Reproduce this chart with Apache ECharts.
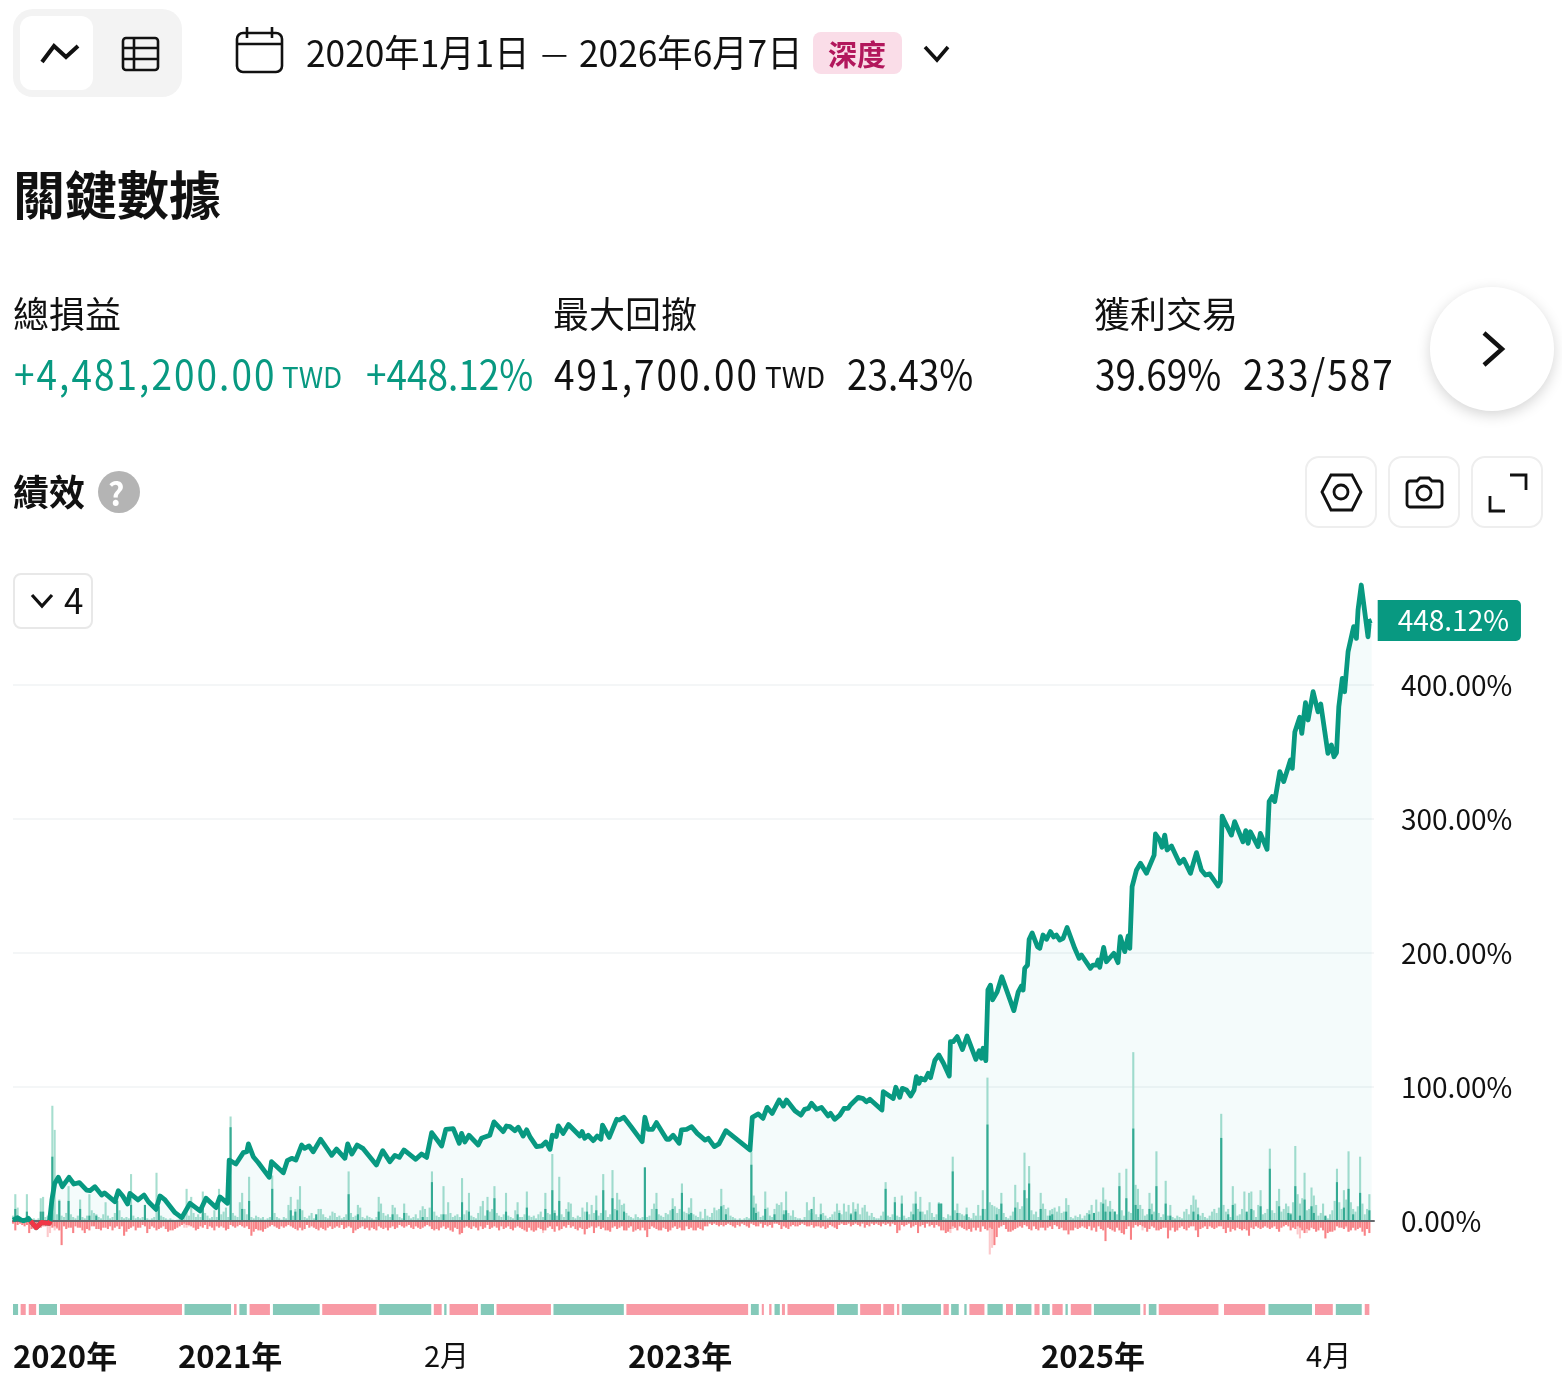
<!DOCTYPE html>
<html lang="zh-Hant">
<head>
<meta charset="utf-8">
<title>關鍵數據</title>
<script src="https://cdn.jsdelivr.net/npm/echarts@6/dist/echarts.min.js"></script>
<style>
  html, body { margin: 0; padding: 0; background: #fff; }
  body { width: 1562px; height: 1378px; position: relative; overflow: hidden;
         font-family: "Noto Sans CJK TC", "Noto Sans", sans-serif; color: #111; }
  #chart { position: absolute; left: 0; top: 0; width: 1562px; height: 1378px; }
  .t { position: absolute; white-space: nowrap; line-height: 1; transform-origin: left center; z-index: 2; }
  .box { position: absolute; box-sizing: border-box; z-index: 2; }
  .btn { background: #fff; border: 2px solid #eeeeee; border-radius: 14px; width: 72px; height: 72px; top: 456px; }
  svg { position: absolute; z-index: 3; overflow: visible; fill: none; stroke: #111; }
  .up { color: #089981; }
  .num { font-size: 41px; top: 352px; transform: scaleX(.9); }
  .spaced { letter-spacing: 2.3px; }
  .cur { font-size: 29px; top: 361px; transform: scaleX(.96); }
  .head { font-size: 36px; top: 294px; }
</style>
</head>
<body>
<div id="chart"></div>

<!-- view toggle -->
<div class="box" style="left:13px;top:9px;width:169px;height:88px;background:#f3f3f3;border-radius:20px"></div>
<div class="box" style="left:20px;top:16px;width:73px;height:74px;background:#fff;border-radius:12px"></div>
<svg style="left:0;top:0" width="10" height="10" stroke-width="4"><polyline points="42,62 54,46 66,57 78,46"/></svg>
<svg style="left:0;top:0" width="10" height="10" stroke-width="2.6"><rect x="123" y="38" width="35" height="32" rx="3"/><path d="M123 48H158M123 59H158M134 38V70"/></svg>

<!-- date range -->
<svg style="left:0;top:0" width="10" height="10" stroke-width="2.6"><rect x="237" y="33" width="45" height="39" rx="6"/><path d="M237 44H282M247 27V38M272 27V38"/></svg>
<div class="t" style="left:306px;top:33px;font-size:37px;transform:scaleX(.954)">2020年1月1日</div>
<div class="t" style="left:541px;top:33px;font-size:30px;line-height:37px;">—</div>
<div class="t" style="left:579px;top:33px;font-size:37px;transform:scaleX(.954)">2026年6月7日</div>
<div class="box" style="left:813px;top:32px;width:89px;height:42px;background:#fadde8;border-radius:8px"></div>
<div class="t" style="left:828px;top:39px;font-size:29px;font-weight:700;color:#b2175c">深度</div>
<svg style="left:0;top:0" width="10" height="10" stroke-width="3.6"><polyline points="925,47 937,60 948,47"/></svg>

<div class="t" style="left:13px;top:167px;font-size:52px;font-weight:700;">關鍵數據</div>

<!-- key metrics -->
<div class="t head" style="left:13px">總損益</div>
<div class="t head" style="left:553px">最大回撤</div>
<div class="t head" style="left:1094px">獲利交易</div>

<div class="t up num spaced" style="left:14px">+4,481,200.00</div>
<div class="t up cur" style="left:282px">TWD</div>
<div class="t up num" style="left:366px">+448.12%</div>
<div class="t num spaced" style="left:554px">491,700.00</div>
<div class="t cur" style="left:765px">TWD</div>
<div class="t num" style="left:847px">23.43%</div>
<div class="t num" style="left:1095px">39.69%</div>
<div class="t num spaced" style="left:1243px">233/587</div>

<div class="box" style="left:1430px;top:287px;width:124px;height:124px;border-radius:50%;background:#fff;box-shadow:0 4px 14px rgba(0,0,0,.17)"></div>
<svg style="left:0;top:0" width="10" height="10" stroke-width="4.4"><polyline points="1484,333 1502,349 1484,365"/></svg>

<!-- performance heading and tools -->
<div class="t" style="left:13px;top:472px;font-size:36px;font-weight:700">績效</div>
<div class="box" style="left:98px;top:471px;width:42px;height:42px;border-radius:50%;background:#b4b4b4"></div>
<div class="t" style="left:108px;top:476px;font-size:32px;font-weight:700;color:#fff">?</div>
<div class="box btn" style="left:1305px"></div>
<div class="box btn" style="left:1388px"></div>
<div class="box btn" style="left:1471px"></div>
<svg style="left:0;top:0" width="10" height="10" stroke-width="2.8"><polygon points="1322,492 1331,475 1352,475 1361,492 1352,510 1331,510"/><circle cx="1341" cy="492" r="7"/></svg>
<svg style="left:0;top:0" width="10" height="10" stroke-width="2.8"><path d="M1407 484a3 3 0 0 1 3-3h7l3-3h9l3 3h7a3 3 0 0 1 3 3v20a3 3 0 0 1-3 3h-29a3 3 0 0 1-3-3z"/><circle cx="1424" cy="493" r="7"/></svg>
<svg style="left:0;top:0" width="10" height="10" stroke-width="2.8"><path d="M1510 475H1526V490M1490 496V511H1505"/></svg>

<!-- collapsed indicator button -->
<div class="box" style="left:13px;top:573px;width:80px;height:56px;background:#fff;border:2px solid #e8e8e8;border-radius:8px"></div>
<svg style="left:0;top:0" width="10" height="10" stroke-width="3.2"><polyline points="32,595 42,606 52,595"/></svg>
<div class="t" style="left:64px;top:581px;font-size:35px">4</div>

<script>
// Cumulative return (%) against trade number, [trade, percent].
const cumulativeReturn = [
  [0,0.7],[2,2.5],[3.5,0.8],[4.5,0.2],[5.7,0.8],[6.6,2],[7.6,0],[10,-5],[12.4,-1],[15.7,-1.7],[16.8,15.7],[18,28],[19.6,32.6],[21.3,25.6],[24.2,32.6],[26.3,27.6],[28.7,28.6],[31.8,23],[33.3,22.6],[35.4,25.6],
  [38.3,19.4],[39.5,21],[44,14.4],[45.5,22.6],[47.4,18.7],[49.5,12.7],[50.5,20.6],[54,15.7],[56.6,19.4],[58.5,14.4],[61.8,8.7],[63.5,18.7],[65.7,15.7],[70,6.2],[72.9,2.5],[76.5,13.2],[80.8,7.5],[83.4,17],[87.7,10],[89.4,18],
  [92.7,13.2],[93.4,45.5],[96.3,42.5],[99.5,51],[101,51.7],[101.7,57.5],[103.8,48],[106,43.5],[110.7,32.6],[111.7,44.3],[116.8,36],[118.5,45],[120.4,46.8],[122.2,45.5],[124.7,56.7],[126,54.2],[127.9,56],[129.7,51.7],[132.9,61],[137.7,49],
  [139.8,53.7],[143.4,46.8],[144.6,57.5],[146.4,50],[148.7,56.7],[151.3,54],[157,41.8],[159.7,52.5],[162.8,44.3],[165,49],[166.9,47.5],[168.9,53],[174,46],[176.5,50],[178.7,47.5],[180.9,66],[185.2,56],[187,68.4],[190.2,69],[192.8,58],
  [193.8,65.4],[195.2,59],[197,64],[201,56.7],[202.4,61.7],[206,64],[207.8,74],[211.8,66.7],[213.2,70.9],[214.7,70.4],[216.8,67.4],[218.3,70],[220.4,63.4],[221.9,68],[223.3,63],[226.2,55.5],[228.4,56],[230.2,59],[232,53.5],[233,64],
  [234.7,63],[235.6,71],[237.7,65.4],[240,72],[244.9,63.4],[245.9,66.7],[247,61.7],[248.5,64],[250.7,60],[252.4,63.4],[254,61],[254.7,71.6],[257.6,62.4],[260.8,75.9],[261.9,75.4],[263.9,77.4],[267.2,70],[271.8,59.2],[273,77.4],[274.4,68.4],
  [276.3,68.4],[278,73.4],[282.4,61],[283.5,61],[285.2,64],[287.8,58],[288.8,68],[291,68.4],[293.2,70.4],[295.6,65.4],[299,60.4],[300.4,61.7],[303,55.5],[305,57.5],[308,67.4],[318.4,53],[319.4,77.4],[322,79.9],[324,76.6],[325.8,84.8],
  [328,80.3],[331,90.3],[332.8,85.8],[334.2,90.3],[337.8,82.3],[340.4,79],[342,83.3],[343.6,84],[345,87.8],[347.2,83.3],[349.3,84.8],[352.2,78.4],[353.2,80.3],[355,75.9],[357.2,79],[359,84],[360.8,84],[361.8,86.6],[365.2,92.3],[367.3,91.3],
  [368.7,89],[370.2,90.8],[375.4,82.8],[376,96.5],[380.3,91.5],[381.4,99.8],[383.1,92.3],[384.2,99],[386,97.8],[387.8,93.3],[389.3,97.8],[390.3,107.7],[391.4,102.7],[392.2,106.5],[394,105.2],[395.4,110.2],[396.4,107],[398.3,120],[400,123.9],[402,117.7],
  [404.5,108.2],[405,133.8],[406.2,133.8],[407.9,137.6],[410.2,128],[412.2,138],[416,120.6],[417.4,127],[418.4,121.4],[419.1,128.9],[420.3,119.7],[421.2,172.4],[422.3,176],[423.2,165],[425.2,171],[427.2,182.3],[432.4,157],[434.3,171],[435.7,175.4],[436.4,172.4],
  [437.1,188.6],[438.3,191],[439,210],[440.3,215],[442.6,204.7],[443.6,203.5],[445,213.4],[446.5,210.2],[448.2,216],[449.6,212],[450.8,213.4],[452.2,209.7],[453.7,211],[455.4,219],[458.7,203.5],[460.6,196],[461.6,198.5],[465.5,188.6],[466.6,191],[468,191],
  [468.8,194.8],[469.5,189.3],[471.2,204.2],[472.4,193.5],[475.6,199.8],[477.4,192.8],[478.4,212.2],[480.3,201],[481.8,212.7],[482.5,203.5],[483.5,249.5],[485.4,262],[487.1,266.9],[489.7,259.5],[493,273],[493.6,288.8],[495.4,284.3],[496.4,278.9],[497.6,288],[498.6,276.9],
  [500.5,279.9],[504,266.9],[505.8,269.9],[508.7,259.5],[511.3,274.9],[513.4,262],[515.2,258.2],[517,259],[520.6,250],[521.6,253.2],[522.4,302.2],[523.5,298],[526.4,288],[527.8,298],[531.4,283],[532.6,291.3],[533.6,281.8],[534.6,290.5],[537.9,279.4],[538.9,289.3],
  [541.8,277.4],[542.7,313],[544,316.7],[545.1,313],[547.3,335.3],[549,327.9],[551.9,344],[552.7,337.8],[553.8,365],[555.9,375.9],[556.8,363.9],[558.4,386.8],[559.5,373.9],[561.7,395],[563.8,380],[565,385.8],[568.1,349],[569.6,355.2],[570.7,346.5],[571.8,349.5],
  [572.8,383.8],[574.3,405],[575.3,395],[576.8,424.9],[579.2,443.5],[580.4,434.8],[581.1,455.9],[582.5,474.6],[585.4,436],[586,447.5],[587,448.12]
];

// The stretch of the curve that sits under the zero line.
const belowZeroReturn = [[7.6,0],[10,-5],[12.4,-1],[15.7,-1.7],[16.1,0]];

// Per-trade run-up, one value for each of the 587 trades (axis percent units).
const tradeRunUp = [
  4,20,10,3,2,1,20,3,1,2,1,2,17,18,3,4,3,86,68,5,
  16,4,3,6,26,5,3,2,4,16,3,2,4,20,8,6,5,3,2,5,
  14,4,2,3,6,16,8,3,2,3,2,35,4,2,3,2,3,12,2,1,
  2,3,36,10,4,3,2,1,2,1,0,1,2,3,6,24,4,18,6,3,
  5,3,22,6,4,2,3,8,3,24,5,7,10,3,78,6,4,3,14,21,
  9,5,33,3,2,4,3,2,3,1,2,3,34,6,3,2,1,3,2,12,
  18,4,9,16,26,8,3,2,4,6,2,3,9,9,5,3,2,4,7,6,
  3,4,2,3,5,37,6,3,4,12,10,3,2,4,3,2,1,3,18,13,
  6,4,5,3,12,10,5,3,2,13,6,4,2,3,5,2,8,11,9,3,
  10,37,7,4,3,5,26,5,14,6,3,4,5,3,32,5,8,21,4,3,
  2,6,11,15,4,18,7,9,26,6,4,3,5,21,4,3,2,8,14,3,
  3,5,22,4,3,4,2,5,7,3,21,6,5,50,8,4,33,5,3,9,
  14,13,3,2,4,3,10,7,14,5,12,6,19,4,6,35,8,3,5,38,
  9,21,16,12,13,6,4,3,2,5,3,2,3,40,3,4,9,13,21,5,
  4,3,6,5,8,17,11,6,9,28,7,6,10,17,5,4,3,7,2,9,
  4,3,6,10,8,9,24,12,9,10,4,3,2,1,2,1,2,3,2,52,
  19,13,7,3,4,22,10,4,3,9,13,12,14,8,22,6,4,8,3,2,
  2,1,3,14,8,6,18,5,3,13,6,4,2,3,5,7,13,8,5,13,
  7,12,6,14,9,13,5,10,12,7,4,6,3,2,2,4,7,29,4,3,
  5,18,4,3,19,4,2,3,7,13,22,9,18,7,5,8,14,6,3,5,
  14,13,3,2,5,4,48,8,13,6,5,4,10,3,2,6,4,12,4,23,
  9,107,14,12,11,10,9,21,6,3,2,4,7,27,14,9,11,51,17,41,
  8,5,7,3,21,13,9,4,8,9,10,7,11,6,7,17,12,3,2,4,
  3,5,2,4,6,8,12,3,16,7,14,25,16,11,15,9,7,5,36,8,
  4,39,7,6,126,27,24,12,9,4,5,21,13,7,52,6,3,5,30,4,
  12,3,2,4,3,2,7,9,5,12,19,16,10,4,6,3,2,4,7,9,
  6,10,80,12,7,9,3,26,13,4,5,9,22,5,21,22,8,3,12,23,
  5,6,9,54,8,6,15,24,7,9,13,11,6,14,56,20,13,17,36,8,
  9,25,19,12,4,6,13,3,2,5,8,15,39,14,9,23,16,52,14,9,
  7,11,48,13,5,9,20
];

// Winning trades' net profit, [trade, value].
const tradeProfit = [
  [1,9],[6,7],[12,7],[13,7],[17,48],[20,15],[24,15],[29,9],[33,4],[36,4],[45,15],[51,12],[57,12],[63,11],[82,13],[89,13],[94,70],[99,9],[102,15],[112,24],
  [120,8],[122,7],[124,9],[131,5],[145,20],[149,5],[158,7],[164,5],[169,6],[177,3],[181,29],[186,5],[194,14],[197,7],[205,8],[208,17],[213,7],[218,5],
  [222,10],[230,9],[233,23],[234,6],[236,15],[240,7],[248,7],[252,8],[255,23],[259,17],[261,8],[264,7],[273,40],[278,9],[285,9],[289,21],[292,5],[293,6],
  [306,11],[308,5],[319,42],[320,10],[321,6],[325,9],[329,5],[333,5],[334,8],[345,9],[349,5],[357,6],[362,5],[364,7],[377,24],[381,14],[384,13],[389,5],
  [390,13],[392,7],[400,13],[401,13],[406,37],[408,6],[412,5],[419,9],[421,72],[425,5],[427,13],[433,10],[437,23],[439,28],
  [444,9],[448,4],[449,5],[455,7],[465,5],[467,6],[471,13],[472,7],[474,7],[476,7],[478,26],[481,17],[484,69],[485,12],[486,9],[491,9],[492,5],[494,26],
  [498,13],[500,4],[510,7],[512,5],[522,62],[525,5],[527,12],[533,7],[535,9],[539,11],[543,39],[547,11],[551,6],[552,5],[554,26],[556,4],[558,16],[561,11],
  [562,6],[567,4],[572,29],[575,10],[577,24],[579,5],[582,21],[586,8]
];

// Per-trade drawdown depth, one value for each of the 587 trades.
const tradeDrawdown = [
  2,7,3,2,3,4,3,9,6,5,4,3,5,4,4,3,3,5,4,5,
  7,18,4,6,5,5,9,4,5,5,7,9,6,7,4,4,6,6,7,5,
  5,6,4,7,5,4,6,4,11,8,6,5,4,7,5,5,3,4,9,6,
  4,5,7,6,5,4,6,8,7,7,6,5,4,3,2,3,3,4,5,7,
  6,4,5,3,6,4,5,7,4,5,4,5,7,6,3,4,5,4,3,4,
  5,4,6,11,8,6,7,7,8,6,5,4,3,4,5,6,4,5,4,3,
  4,5,6,7,5,7,6,3,5,4,5,6,7,5,6,7,5,4,6,5,
  4,5,3,6,5,4,5,9,7,6,5,4,6,5,7,5,6,7,4,5,
  6,5,7,5,4,6,5,3,4,5,4,3,5,6,4,5,6,5,4,3,
  4,6,7,6,7,5,4,6,5,7,8,5,6,10,9,5,4,5,6,4,
  5,7,4,6,5,3,6,5,4,5,7,4,6,5,4,6,7,5,4,5,
  6,7,8,5,7,8,7,5,6,7,7,5,4,6,8,4,7,6,4,5,
  3,5,4,6,7,5,6,10,6,5,4,9,5,4,6,5,7,7,8,5,
  4,6,5,4,7,7,5,4,8,7,6,7,5,7,12,6,4,5,6,7,
  7,5,6,8,7,5,4,6,5,7,7,4,6,5,7,7,5,6,7,4,
  4,2,3,2,3,4,3,4,3,2,3,4,5,3,4,2,3,4,5,2,
  3,4,4,2,5,3,4,3,5,2,2,3,6,4,5,6,4,3,4,4,
  3,2,3,4,4,3,5,4,4,5,4,6,5,3,4,5,6,3,2,3,
  3,2,4,3,2,3,4,2,5,3,4,2,3,2,3,4,2,3,2,4,
  2,3,9,7,3,4,3,2,5,4,3,9,4,3,5,2,4,3,5,3,
  4,7,7,9,8,6,4,5,7,4,5,6,7,6,8,5,7,5,8,4,
  6,7,5,6,18,12,5,4,3,6,8,8,7,6,5,4,5,3,4,6,
  7,4,6,7,5,5,7,5,4,6,3,4,6,5,7,7,10,7,7,5,
  6,5,4,5,6,4,7,5,8,4,6,7,15,5,6,7,8,5,7,9,
  10,6,4,14,5,3,4,3,4,5,8,6,4,5,7,7,6,5,5,13,
  7,5,8,7,5,4,6,7,5,4,4,7,12,6,5,4,6,4,5,6,
  5,4,4,6,9,5,8,6,7,5,6,7,6,7,11,5,6,4,5,6,
  5,4,5,6,5,4,6,8,5,4,3,4,7,5,6,4,5,7,9,6,
  7,5,6,8,7,5,7,13,9,8,8,7,4,5,5,6,4,8,7,5,
  7,6,5,8,11,6,9
];

// Pale excursions that reach past the drawdown bars, [trade, depth].
const tradeExcursion = [
  [15,12],[16,9],[18,7],[19,6],[70,4],[74,5],[75,5],[76,4],[113,4],[175,4],[229,9],[265,7],[405,9],[406,6],[407,5],[422,25],[423,20],[488,7],[489,5],[555,10],[556,13],[559,9],[576,5],[577,8],[578,6],[579,5]
];

// Winning and losing streaks along the bottom strip: [first trade, last trade].
const winStreaks = [
  [0,2.2],[11.2,19],[74.1,94.2],[97.8,101],[112.3,132.5],[158.2,180.7],[186.3,187.3],[202.1,207.8],[233.5,263.9],[318.8,322.2],[329,331.3],[356,365],[384,400.9],[405.3,408.6],[411,412],[421,427.6],[433.3,440],[444.6,447.9],[454.7,455.7],[467,487],[490.7,494],[542.4,561.2],[571.5,582.7]
];
const lossStreaks = [
  [3.3,5.5],[6.8,10],[20.3,73],[95.5,96.6],[102.2,111],[133.6,157],[181.8,185.2],[188.6,200.9],[208.9,232.4],[265,317.6],[323.5,324.4],[326.7,327.7],[332.2,333.5],[334.6,354.8],[366,375],[376,380.7],[381.9,382.9],[402,404.3],[413.2,419.7],[429,432],[441.3,443.5],[449,453.5],[457,465.9],[488.4,489.4],[495,520.8],[523.2,541],[562.5,570.2],[584,586]
];

// Time-scale ticks, given by trade number.
const xTickTrades = [22.5, 93.8, 187.3, 288.2, 466.6, 568.4];
const xTickLabels = ['2020年', '2021年', '2月', '2023年', '2025年', '4月'];
const xTickMajor  = [true, true, false, true, true, false];

const TRADE_MAX = 588;
const GREEN = '#089981';
const chart = echarts.init(document.getElementById('chart'), null, { renderer: 'canvas' });

const barBase = { type: 'bar', barWidth: 2.1, barGap: '-100%', silent: true, animation: false };
const streakSeries = (list, color) => ({
  type: 'custom', xAxisIndex: 1, yAxisIndex: 1, silent: true, animation: false,
  data: list,
  encode: { x: [0, 1], y: [] },
  renderItem: (params, api) => {
    const a = api.coord([api.value(0), 1]);
    const b = api.coord([api.value(1), 0]);
    return { type: 'rect', shape: { x: a[0], y: a[1], width: b[0] - a[0], height: b[1] - a[1] }, style: { fill: color } };
  }
});

chart.setOption({
  animation: false,
  backgroundColor: '#fff',
  textStyle: { fontFamily: '"Noto Sans CJK TC","Noto Sans",sans-serif' },
  grid: [
    { left: 13, top: 551, width: 1361, height: 804 },
    { left: 13, top: 1304, width: 1361, height: 11 }
  ],
  xAxis: [
    { type: 'value', gridIndex: 0, min: 0, max: TRADE_MAX, z: 5, splitLine: { show: false }, axisTick: { show: false }, axisLabel: { show: false },
      axisLine: { show: true, onZero: true, lineStyle: { color: '#666a6e', width: 2 } } },
    { type: 'value', gridIndex: 1, min: 0, max: TRADE_MAX, splitLine: { show: false }, axisTick: { show: false }, axisLine: { show: false },
      axisLabel: {
        show: true, margin: 26, customValues: xTickTrades, showMinLabel: true, showMaxLabel: true, hideOverlap: false,
        formatter: (v) => {
          const i = xTickTrades.indexOf(v);
          return (xTickMajor[i] ? '{b|' : '{n|') + xTickLabels[i] + '}';
        },
        rich: {
          b: { fontSize: 31, fontWeight: 700, color: '#111', fontFamily: '"Noto Sans CJK TC",sans-serif' },
          n: { fontSize: 29, fontWeight: 400, color: '#111', fontFamily: '"Noto Sans CJK TC",sans-serif' }
        }
      } }
  ],
  yAxis: [
    { type: 'value', gridIndex: 0, position: 'right', min: -100, max: 500, interval: 100,
      axisLine: { show: false }, axisTick: { show: false },
      splitLine: { show: true, showMinLine: false, showMaxLine: false, lineStyle: { color: '#f0f3f4', width: 1.5 } },
      axisLabel: { margin: 27, fontSize: 28, color: '#111', padding: [2, 0, 0, 0], showMinLabel: false, showMaxLabel: false, formatter: (v) => v.toFixed(2) + '%' } },
    { type: 'value', gridIndex: 1, min: 0, max: 1, show: false }
  ],
  series: [
    { ...barBase, name: '回撤幅度', data: tradeExcursion.map(([t, v]) => [t, -v]), itemStyle: { color: '#fcc9cb' } },
    { ...barBase, name: '最大回撤', data: tradeDrawdown.map((v, i) => [i, -v]), itemStyle: { color: '#f88286' } },
    { ...barBase, name: '最大獲利', data: tradeRunUp.map((v, i) => [i, v]), itemStyle: { color: '#a6decf' } },
    { ...barBase, name: '淨利', data: tradeProfit, itemStyle: { color: '#36ab93' } },
    { type: 'line', name: '累計損益', data: cumulativeReturn, z: 6, showSymbol: false, symbol: 'none', silent: true, animation: false,
      lineStyle: { color: GREEN, width: 4.8, join: 'round', cap: 'butt' },
      itemStyle: { color: GREEN },
      areaStyle: { color: 'rgba(8,153,153,0.06)', origin: 'auto' },
      endLabel: {
        show: true, distance: 6, formatter: (p) => p.value[1].toFixed(2) + '%',
        color: '#fff', fontSize: 28, fontFamily: '"Noto Sans CJK TC",sans-serif',
        backgroundColor: GREEN, borderRadius: [0, 5, 5, 0],
        lineHeight: 37, padding: [0, 12, 4, 20]
      } },
    { type: 'line', name: '低於零', data: belowZeroReturn, z: 7, symbol: 'none', silent: true, animation: false,
      lineStyle: { color: '#f23645', width: 4.8, join: 'round' } },
    streakSeries(winStreaks, '#84c9b9'),
    streakSeries(lossStreaks, '#f89aa5')
  ]
});
</script>
</body>
</html>
